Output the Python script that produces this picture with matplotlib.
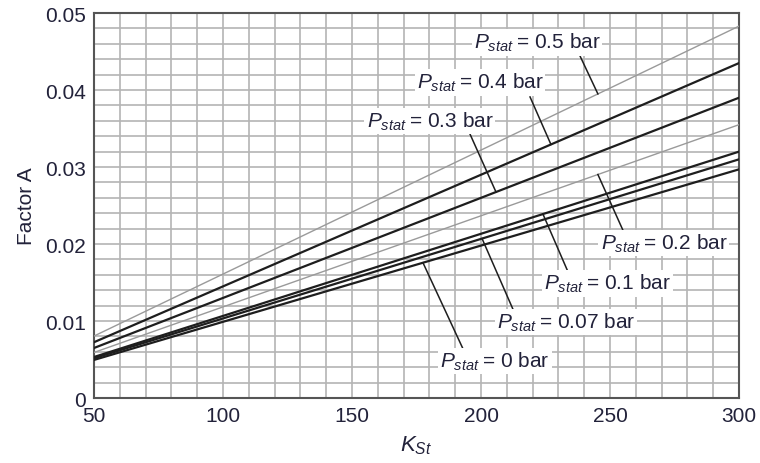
import numpy as np
import matplotlib
matplotlib.use("Agg")
import matplotlib.pyplot as plt

plt.rcParams["font.family"] = ["Liberation Sans", "DejaVu Sans"]
plt.rcParams["mathtext.fontset"] = "custom"
plt.rcParams["mathtext.rm"] = "Liberation Sans"
plt.rcParams["mathtext.it"] = "Liberation Sans:italic"

# ------------------------
# Data
# ------------------------
k_st = [50, 300]
a_p000 = [0.00495, 0.0297]
a_p007 = [0.00517, 0.0310]
a_p010 = [0.00533, 0.0320]
a_p020 = [0.00592, 0.0355]
a_p030 = [0.00650, 0.0390]
a_p040 = [0.00725, 0.0435]
a_p050 = [0.00805, 0.0483]

pressures = ["0.5", "0.4", "0.3", "0.2", "0.1", "0.07", "0"]
series = [a_p050, a_p040, a_p030, a_p020, a_p010, a_p007, a_p000]
is_grey = [True, False, False, True, False, False, False]

# label layout: K where leader touches the curve, label centre (K, A)
leader_k = [245.3, 227.1, 205.8, 245.3, 224.0, 200.4, 177.5]
label_xy = [(221.7, 0.0462), (199.6, 0.0410), (180.2, 0.0360), (270.9, 0.0201),
            (249.0, 0.0149), (232.9, 0.0099), (205.4, 0.0048)]
leader_end = [(238.4, 0.0444), (219.0, 0.0391), (195.7, 0.0343), (255.8, 0.0212),
              (233.7, 0.0164), (213.2, 0.0109), (193.0, 0.0064)]

txt = "#22223a"

fig = plt.figure(figsize=(7.6, 4.64), dpi=100)
ax = fig.add_axes([0.1237, 0.140, 0.8487, 0.8298])

for a, grey in zip(series, is_grey):
    if grey:
        ax.plot(k_st, a, color="#9a9a9a", lw=1.0, zorder=3)
    else:
        ax.plot(k_st, a, color="#1e1e1e", lw=1.6, zorder=3)

for p, a, k, (lx, ly), (ex, ey) in zip(pressures, series, leader_k, label_xy, leader_end):
    y_on = np.interp(k, k_st, a)
    ax.plot([k, ex], [y_on, ey], color="#1e1e1e", lw=1.1, zorder=4)
    ax.text(lx, ly, r"$P_{stat}$" + "\u2009= " + p + " bar", ha="center", va="center",
            fontsize=15, color=txt, zorder=5,
            bbox=dict(facecolor="white", edgecolor="none", pad=1.5))

ax.set_xlim(50, 300)
ax.set_ylim(0, 0.05)
ax.set_xticks([50, 100, 150, 200, 250, 300])
ax.set_xticks(np.arange(50, 301, 10), minor=True)
ax.set_yticks([0, 0.01, 0.02, 0.03, 0.04, 0.05])
ax.set_yticklabels(["0", "0.01", "0.02", "0.03", "0.04", "0.05"])
ax.set_yticks(np.arange(0, 0.0501, 0.002), minor=True)
ax.grid(True, which="both", color="#b4b4b4", lw=1.2, zorder=0)
ax.set_axisbelow(True)
ax.tick_params(which="both", length=0, labelsize=15, labelcolor=txt, pad=6)

for s in ax.spines.values():
    s.set_color("#555555")
    s.set_linewidth(1.5)

ax.set_ylabel("Factor A", fontsize=15, color=txt, labelpad=6)
ax.set_xlabel(r"$K_{St}$", fontsize=16, color=txt, labelpad=6)

plt.savefig("out.png", dpi=100)
